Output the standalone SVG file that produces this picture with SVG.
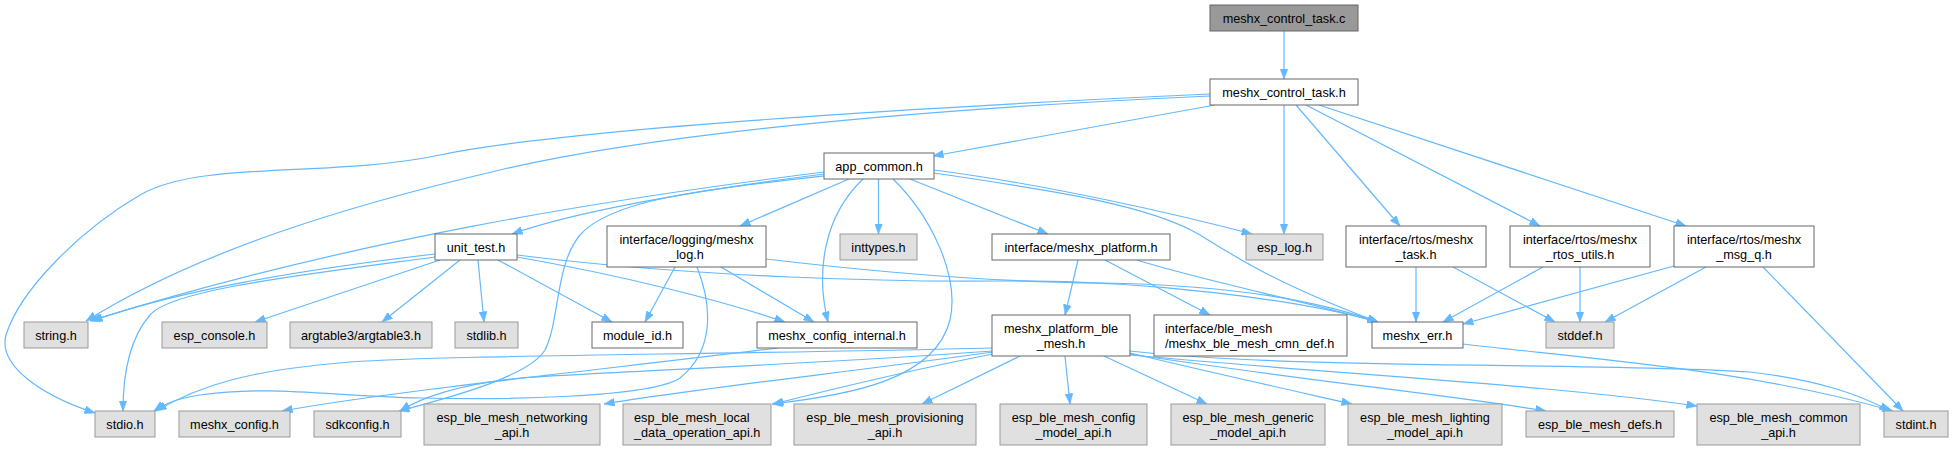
<svg xmlns="http://www.w3.org/2000/svg" width="1953" height="450" viewBox="0 0 1953 450">
<style>
.n rect{fill:#ffffff;stroke:#666666;stroke-width:1}
.g rect{fill:#e0e0e0;stroke:#999999;stroke-width:1}
.r rect{fill:#999999;stroke:#666666;stroke-width:1}
text{font-family:"Liberation Sans",Arial,Helvetica,sans-serif;font-size:12.7px;fill:#000000;text-anchor:middle}
text.l{text-anchor:start}
#edges path{fill:none;stroke:#63b8ff;stroke-width:1.2;marker-end:url(#ah)}
</style>
<defs>
<marker id="ah" markerUnits="userSpaceOnUse" markerWidth="11" markerHeight="8" refX="10.5" refY="4" orient="auto">
<path d="M0,0 L10.5,4 L0,8 z" fill="#63b8ff" stroke="#63b8ff" stroke-width="0.5"/>
</marker>
</defs>
<rect x="0" y="0" width="1953" height="450" fill="#ffffff"/>
<g id="edges">
<path d="M1284,31 L1284,79"/>
<path d="M1215,105 L933,156"/>
<path d="M1210,94 C900,108 560,130 440,155 C330,178 200,160 140,195 C80,230 20,290 6,335 C-2,365 40,395 95,413"/>
<path d="M1210,96 C900,110 650,135 500,170 C350,205 200,250 86,321"/>
<path d="M1284,105 L1284,234"/>
<path d="M1296,105 L1400,226"/>
<path d="M1306,105 L1540,226"/>
<path d="M1319,105 L1686,226"/>
<path d="M824,172 C600,200 350,240 90,321"/>
<path d="M824,174 C700,190 580,210 512,234"/>
<path d="M849,179 L740,226"/>
<path d="M863,179 C825,215 815,270 828,322"/>
<path d="M878.5,179 L878.5,234"/>
<path d="M893,179 C930,215 960,275 950,320 C935,380 850,395 772,404"/>
<path d="M910,179 L1048,234"/>
<path d="M934,170 C1050,185 1180,215 1252,234"/>
<path d="M934,173 C1050,190 1150,205 1200,235 C1240,260 1280,285 1378,322"/>
<path d="M824,176 C700,190 610,200 580,235 C555,265 560,320 545,350 C530,375 460,395 399,411"/>
<path d="M435,254 C300,270 180,290 92,321"/>
<path d="M435,257 C300,275 170,290 150,315 C128,340 123,380 123,411"/>
<path d="M440,260 L255,322"/>
<path d="M460,260 L382,322"/>
<path d="M478,260 L484,322"/>
<path d="M498,260 L612,322"/>
<path d="M517,257 C620,275 720,300 785,322"/>
<path d="M517,255 C700,278 900,282 1000,281 C1150,280 1300,300 1378,322"/>
<path d="M675,267 L645,322"/>
<path d="M721,267 L814,322"/>
<path d="M766,259 C900,275 1000,282 1100,283 C1250,285 1330,305 1378,322"/>
<path d="M697,267 C712,305 715,350 680,378 C650,398 500,400 420,398 C330,396 270,385 200,395 C180,398 165,403 154,411"/>
<path d="M778,348 C600,370 400,390 282,411"/>
<path d="M1078,260 L1065,315"/>
<path d="M1105,260 L1210,315"/>
<path d="M1137,260 C1200,280 1300,300 1378,322"/>
<path d="M1416,267 L1416,322"/>
<path d="M1453,267 L1555,322"/>
<path d="M1543,267 L1443,322"/>
<path d="M1580,267 L1580,322"/>
<path d="M1674,266 L1463,324"/>
<path d="M1706,267 L1605,322"/>
<path d="M1763,267 L1903,411"/>
<path d="M1463,344 C1600,360 1750,370 1893,411"/>
<path d="M993,348 C700,355 450,355 350,362 C250,370 200,385 156,411"/>
<path d="M993,351 C800,365 600,372 520,378 C460,384 420,398 400,411"/>
<path d="M993,352 C850,372 700,388 604,404"/>
<path d="M993,354 C900,372 830,390 773,404"/>
<path d="M1020,356 L922,404"/>
<path d="M1065,356 L1070,404"/>
<path d="M1104,356 L1207,404"/>
<path d="M1130,353 C1200,370 1290,390 1352,404"/>
<path d="M1130,354 C1300,380 1450,395 1546,411"/>
<path d="M1130,355 C1350,375 1550,385 1697,406"/>
<path d="M1130,351 C1300,370 1600,362 1750,372 C1820,380 1860,395 1890,411"/>
</g>
<g id="n1" class="r"><rect x="1210" y="5" width="148" height="26"/><text x="1284" y="23">meshx_control_task.c</text></g>
<g id="n2" class="n"><rect x="1210" y="79" width="148" height="26"/><text x="1284" y="97">meshx_control_task.h</text></g>
<g id="n3" class="n"><rect x="824" y="153" width="110" height="26"/><text x="879" y="171">app_common.h</text></g>
<g id="n4" class="n"><rect x="435" y="234" width="82" height="26"/><text x="476" y="252">unit_test.h</text></g>
<g id="n5" class="n"><rect x="607" y="226" width="159" height="41"/><text x="686.5" y="244">interface/logging/meshx</text><text x="686.5" y="259">_log.h</text></g>
<g id="n6" class="g"><rect x="840" y="234" width="77" height="26"/><text x="878.5" y="252">inttypes.h</text></g>
<g id="n7" class="n"><rect x="992" y="234" width="178" height="26"/><text x="1081" y="252">interface/meshx_platform.h</text></g>
<g id="n8" class="g"><rect x="1246" y="234" width="77" height="26"/><text x="1284.5" y="252">esp_log.h</text></g>
<g id="n9" class="n"><rect x="1346" y="226" width="140" height="41"/><text x="1416" y="244">interface/rtos/meshx</text><text x="1416" y="259">_task.h</text></g>
<g id="n10" class="n"><rect x="1510" y="226" width="140" height="41"/><text x="1580" y="244">interface/rtos/meshx</text><text x="1580" y="259">_rtos_utils.h</text></g>
<g id="n11" class="n"><rect x="1674" y="226" width="140" height="41"/><text x="1744" y="244">interface/rtos/meshx</text><text x="1744" y="259">_msg_q.h</text></g>
<g id="n12" class="g"><rect x="24" y="322" width="64" height="26"/><text x="56" y="340">string.h</text></g>
<g id="n13" class="g"><rect x="162" y="322" width="105" height="26"/><text x="214.5" y="340">esp_console.h</text></g>
<g id="n14" class="g"><rect x="290" y="322" width="142" height="26"/><text x="361" y="340">argtable3/argtable3.h</text></g>
<g id="n15" class="g"><rect x="455" y="322" width="63" height="26"/><text x="486.5" y="340">stdlib.h</text></g>
<g id="n16" class="n"><rect x="592" y="322" width="91" height="26"/><text x="637.5" y="340">module_id.h</text></g>
<g id="n17" class="n"><rect x="757" y="322" width="160" height="26"/><text x="837" y="340">meshx_config_internal.h</text></g>
<g id="n18" class="n"><rect x="992" y="315" width="138" height="41"/><text x="1061" y="333">meshx_platform_ble</text><text x="1061" y="348">_mesh.h</text></g>
<g id="n19" class="n"><rect x="1154" y="315" width="193" height="41"/><text class="l" x="1165" y="333">interface/ble_mesh</text><text class="l" x="1165" y="348">/meshx_ble_mesh_cmn_def.h</text></g>
<g id="n20" class="n"><rect x="1372" y="322" width="91" height="26"/><text x="1417.5" y="340">meshx_err.h</text></g>
<g id="n21" class="g"><rect x="1546" y="322" width="68" height="26"/><text x="1580" y="340">stddef.h</text></g>
<g id="n22" class="g"><rect x="95" y="411" width="60" height="26"/><text x="125" y="429">stdio.h</text></g>
<g id="n23" class="g"><rect x="179" y="411" width="111" height="26"/><text x="234.5" y="429">meshx_config.h</text></g>
<g id="n24" class="g"><rect x="314" y="411" width="87" height="26"/><text x="357.5" y="429">sdkconfig.h</text></g>
<g id="n25" class="g"><rect x="424" y="404" width="176" height="41"/><text x="512" y="422">esp_ble_mesh_networking</text><text x="512" y="437">_api.h</text></g>
<g id="n26" class="g"><rect x="623" y="404" width="148" height="41"/><text class="l" x="634" y="422">esp_ble_mesh_local</text><text class="l" x="634" y="437">_data_operation_api.h</text></g>
<g id="n27" class="g"><rect x="794" y="404" width="182" height="41"/><text x="885" y="422">esp_ble_mesh_provisioning</text><text x="885" y="437">_api.h</text></g>
<g id="n28" class="g"><rect x="1000" y="404" width="147" height="41"/><text x="1073.5" y="422">esp_ble_mesh_config</text><text x="1073.5" y="437">_model_api.h</text></g>
<g id="n29" class="g"><rect x="1171" y="404" width="154" height="41"/><text x="1248" y="422">esp_ble_mesh_generic</text><text x="1248" y="437">_model_api.h</text></g>
<g id="n30" class="g"><rect x="1348" y="404" width="154" height="41"/><text x="1425" y="422">esp_ble_mesh_lighting</text><text x="1425" y="437">_model_api.h</text></g>
<g id="n31" class="g"><rect x="1526" y="411" width="148" height="26"/><text x="1600" y="429">esp_ble_mesh_defs.h</text></g>
<g id="n32" class="g"><rect x="1697" y="404" width="163" height="41"/><text x="1778.5" y="422">esp_ble_mesh_common</text><text x="1778.5" y="437">_api.h</text></g>
<g id="n33" class="g"><rect x="1884" y="411" width="64" height="26"/><text x="1916" y="429">stdint.h</text></g>
</svg>
